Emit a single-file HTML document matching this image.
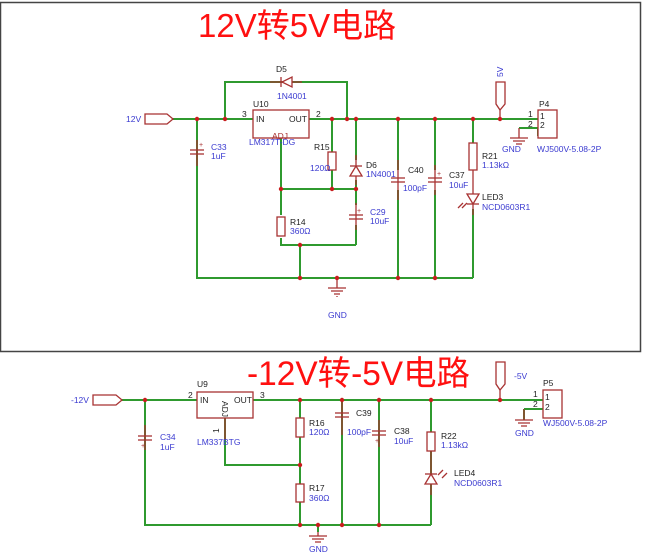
<!DOCTYPE html>
<html><head><meta charset="utf-8"><style>
html,body{margin:0;padding:0;background:#fff;width:658px;height:553px;overflow:hidden}
svg{display:block}
text{font-family:"Liberation Sans","Noto Sans CJK SC",sans-serif}
.w{stroke:#2f9a2f;stroke-width:2;fill:none}
.c{stroke:#a83232;stroke-width:1.3;fill:none}
.cf{stroke:#a83232;stroke-width:1.3;fill:#fff}
.l{fill:#3a3ad0;font-size:8.5px}
.k{fill:#222;font-size:8.5px}
.d{fill:#c81e1e}
</style></head><body>
<svg width="658" height="553" viewBox="0 0 658 553" xmlns="http://www.w3.org/2000/svg">
<rect x="0.5" y="2.5" width="640" height="349" fill="none" stroke="#444" stroke-width="1.5"/>
<text x="198" y="37" font-size="33" fill="#ff1010">12V转5V电路</text>
<text x="247" y="385" font-size="34" fill="#ff1010" textLength="223" lengthAdjust="spacingAndGlyphs">-12V转-5V电路</text>

<!-- ===== TOP ===== -->
<g class="w">
<path d="M173 119H253M309 119H500M225 119V82H347V119"/>
<path d="M197 119V278H473M473 119V145M473 209V278M398 119V170M398 190V278M435 119V170M435 190V278"/>
<path d="M281 138V189H356M332 119V152M332 170V189M356 119V160M356 180V205M356 225V245M281 189V215M281 238V245H356M300 245V278"/>
<path d="M500 119H538M519 128H538V136"/>
</g>
<path class="cf" d="M145 114H167L173 119L167 124H145Z"/>
<text class="l" x="126" y="122">12V</text>
<line class="c" x1="270" y1="82" x2="302" y2="82"/>
<path class="cf" d="M292 77L292 87L282 82Z"/><line class="c" x1="281" y1="77" x2="281" y2="87"/>
<text class="k" x="276" y="72">D5</text><text class="l" x="277" y="99">1N4001</text>
<rect class="cf" x="253" y="110" width="56" height="28"/>
<text class="k" x="253" y="107">U10</text><text class="k" x="256" y="122">IN</text><text class="k" x="289" y="122">OUT</text>
<text x="272" y="139" font-size="8.5" fill="#a83232">ADJ</text>
<text class="l" x="249" y="145">LM317T-DG</text>
<text class="k" x="242" y="117">3</text><text class="k" x="316" y="117">2</text>
<line class="c" x1="197" y1="140" x2="197" y2="166"/>
<line class="c" x1="190" y1="150" x2="204" y2="150"/><line class="c" x1="190" y1="154" x2="204" y2="154"/>
<text x="199" y="147" font-size="7" fill="#a83232">+</text>
<text class="l" x="211" y="150">C33</text><text class="l" x="211" y="159">1uF</text>
<rect class="cf" x="328" y="152" width="8" height="18"/>
<text class="k" x="314" y="150">R15</text><text class="l" x="310" y="171">120Ω</text>
<line class="c" x1="356" y1="155" x2="356" y2="185"/>
<path class="cf" d="M350 176H362L356 166Z"/><line class="c" x1="350" y1="166" x2="362" y2="166"/>
<text class="k" x="366" y="168">D6</text><text class="l" x="366" y="177">1N4001</text>
<line class="c" x1="356" y1="203" x2="356" y2="230"/>
<line class="c" x1="349" y1="215" x2="363" y2="215"/><line class="c" x1="349" y1="219" x2="363" y2="219"/>
<text x="357" y="213" font-size="7" fill="#a83232">+</text>
<text class="l" x="370" y="215">C29</text><text class="l" x="370" y="224">10uF</text>
<rect class="cf" x="277" y="217" width="8" height="19"/>
<text class="k" x="290" y="225">R14</text><text class="l" x="290" y="234">360Ω</text>
<path class="c" d="M337 278V288M328 288H346M331 291H343M334 294H340M337 296V297"/>
<text class="l" x="328" y="318">GND</text>
<line class="c" x1="398" y1="160" x2="398" y2="200"/>
<line class="c" x1="391" y1="178" x2="405" y2="178"/><line class="c" x1="391" y1="182" x2="405" y2="182"/>
<text class="k" x="408" y="173">C40</text><text class="l" x="403" y="191">100pF</text>
<line class="c" x1="435" y1="165" x2="435" y2="195"/>
<line class="c" x1="428" y1="178" x2="442" y2="178"/><line class="c" x1="428" y1="182" x2="442" y2="182"/>
<text x="437" y="176" font-size="7" fill="#a83232">+</text>
<text class="k" x="449" y="178">C37</text><text class="l" x="449" y="188">10uF</text>
<rect class="cf" x="469" y="143" width="8" height="27"/>
<line class="c" x1="473" y1="170" x2="473" y2="215"/>
<path class="cf" d="M467 194H479L473 204Z"/><line class="c" x1="467" y1="204" x2="479" y2="204"/>
<path class="c" d="M463 203L458 208M467 203L462 208"/>
<text class="k" x="482" y="159">R21</text><text class="l" x="482" y="168">1.13kΩ</text>
<text class="k" x="482" y="200">LED3</text><text class="l" x="482" y="210">NCD0603R1</text>
<path class="cf" d="M496 82H505V104L500 110L496 104Z"/><line class="c" x1="500" y1="110" x2="500" y2="119"/>
<text class="l" x="503" y="77" transform="rotate(-90 503 77)">5V</text>
<rect class="cf" x="538" y="110" width="19" height="28"/>
<text class="k" x="539" y="107">P4</text>
<text class="k" x="528" y="117">1</text><text class="k" x="540" y="119">1</text>
<text class="k" x="528" y="127">2</text><text class="k" x="540" y="128">2</text>
<path class="c" d="M519 128V138M510 138H528M513 141H525M516 144H522"/>
<text class="l" x="502" y="152">GND</text>
<text class="l" x="537" y="152">WJ500V-5.08-2P</text>

<!-- ===== BOTTOM ===== -->
<g class="w">
<path d="M122 400H197M253 400H555M145 400V525H431M431 400V525M300 400V525M342 400V525M379 400V525M225 418V465H300"/>
<path d="M524 409H543M524 409V420M318 525V532"/>
</g>
<path class="cf" d="M93 395H116L122 400L116 405H93Z"/>
<text class="l" x="71" y="403">-12V</text>
<rect class="cf" x="197" y="392" width="56" height="26"/>
<text class="k" x="197" y="387">U9</text><text class="k" x="200" y="403">IN</text><text class="k" x="234" y="403">OUT</text>
<text class="k" x="222" y="401" transform="rotate(90 222 401)">ADJ</text>
<text class="k" x="188" y="398">2</text><text class="k" x="260" y="398">3</text>
<text class="k" x="219" y="433" transform="rotate(-90 219 433)">1</text>
<line class="c" x1="225" y1="418" x2="225" y2="440"/>
<text class="l" x="197" y="445">LM337BTG</text>
<line class="c" x1="145" y1="425" x2="145" y2="450"/>
<line class="c" x1="138" y1="436" x2="152" y2="436"/><line class="c" x1="138" y1="440" x2="152" y2="440"/>
<text x="141" y="448" font-size="7" fill="#a83232">+</text>
<text class="l" x="160" y="440">C34</text><text class="l" x="160" y="450">1uF</text>
<rect class="cf" x="296" y="418" width="8" height="19"/>
<text class="k" x="309" y="426">R16</text><text class="l" x="309" y="435">120Ω</text>
<rect class="cf" x="296" y="484" width="8" height="18"/>
<text class="k" x="309" y="491">R17</text><text class="l" x="309" y="501">360Ω</text>
<line class="c" x1="342" y1="400" x2="342" y2="435"/>
<line class="c" x1="335" y1="413" x2="349" y2="413"/><line class="c" x1="335" y1="417" x2="349" y2="417"/>
<text class="k" x="356" y="416">C39</text><text class="l" x="347" y="435">100pF</text>
<line class="c" x1="379" y1="420" x2="379" y2="447"/>
<line class="c" x1="372" y1="431" x2="386" y2="431"/><line class="c" x1="372" y1="435" x2="386" y2="435"/>
<text x="375" y="443" font-size="7" fill="#a83232">+</text>
<text class="k" x="394" y="434">C38</text><text class="l" x="394" y="444">10uF</text>
<rect class="cf" x="427" y="432" width="8" height="19"/>
<line class="c" x1="431" y1="451" x2="431" y2="495"/>
<path class="cf" d="M425 484H437L431 474Z"/><line class="c" x1="425" y1="474" x2="437" y2="474"/>
<path class="c" d="M438 475L443 470M442 478L447 473"/>
<text class="k" x="441" y="439">R22</text><text class="l" x="441" y="448">1.13kΩ</text>
<text class="k" x="454" y="476">LED4</text><text class="l" x="454" y="486">NCD0603R1</text>
<path class="c" d="M318 532V536M309 536H327M312 539H324M315 542H321"/>
<text class="l" x="309" y="552">GND</text>
<path class="cf" d="M496 362H505V384L500 390L496 384Z"/><line class="c" x1="500" y1="390" x2="500" y2="400"/>
<text class="l" x="514" y="379">-5V</text>
<rect class="cf" x="543" y="390" width="19" height="28"/>
<text class="k" x="543" y="386">P5</text>
<text class="k" x="533" y="397">1</text><text class="k" x="545" y="400">1</text>
<text class="k" x="533" y="407">2</text><text class="k" x="545" y="410">2</text>
<path class="c" d="M524 409V420M515 420H533M518 423H530M521 426H527"/>
<text class="l" x="515" y="436">GND</text>
<text class="l" x="543" y="426">WJ500V-5.08-2P</text>

<g class="d">
<circle cx="197" cy="119" r="2.2"/><circle cx="225" cy="119" r="2.2"/><circle cx="332" cy="119" r="2.2"/><circle cx="347" cy="119" r="2.2"/><circle cx="356" cy="119" r="2.2"/><circle cx="398" cy="119" r="2.2"/><circle cx="435" cy="119" r="2.2"/><circle cx="473" cy="119" r="2.2"/><circle cx="500" cy="119" r="2.2"/>
<circle cx="281" cy="189" r="2.2"/><circle cx="332" cy="189" r="2.2"/><circle cx="356" cy="189" r="2.2"/><circle cx="300" cy="245" r="2.2"/>
<circle cx="300" cy="278" r="2.2"/><circle cx="337" cy="278" r="2.2"/><circle cx="398" cy="278" r="2.2"/><circle cx="435" cy="278" r="2.2"/>
<circle cx="145" cy="400" r="2.2"/><circle cx="300" cy="400" r="2.2"/><circle cx="342" cy="400" r="2.2"/><circle cx="379" cy="400" r="2.2"/><circle cx="431" cy="400" r="2.2"/><circle cx="500" cy="400" r="2.2"/>
<circle cx="300" cy="465" r="2.2"/><circle cx="300" cy="525" r="2.2"/><circle cx="318" cy="525" r="2.2"/><circle cx="342" cy="525" r="2.2"/><circle cx="379" cy="525" r="2.2"/>
</g>
</svg>
</body></html>
